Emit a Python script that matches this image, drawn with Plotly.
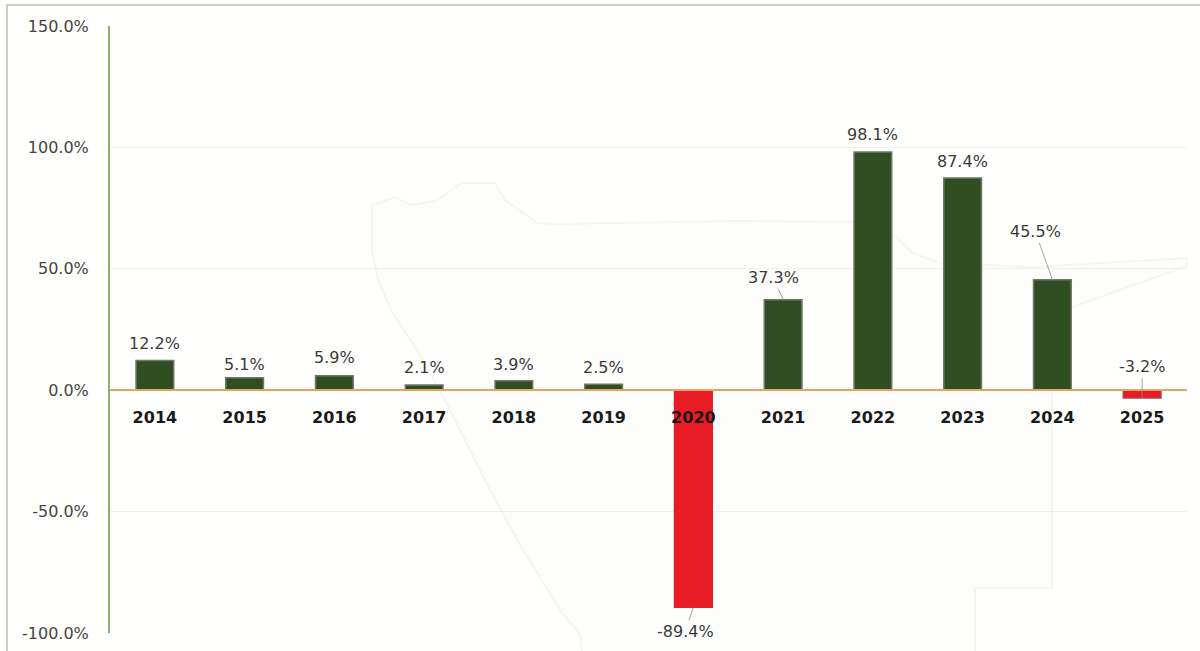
import plotly.graph_objects as go

years = ["2014", "2015", "2016", "2017", "2018", "2019", "2020", "2021", "2022", "2023", "2024", "2025"]
growth = [12.2, 5.1, 5.9, 2.1, 3.9, 2.5, -89.4, 37.3, 98.1, 87.4, 45.5, -3.2]
labels = ["12.2%", "5.1%", "5.9%", "2.1%", "3.9%", "2.5%", "-89.4%", "37.3%", "98.1%", "87.4%", "45.5%", "-3.2%"]
y_ticks = [-100, -50, 0, 50, 100, 150]
y_tick_labels = ["-100.0%", "-50.0%", "0.0%", "50.0%", "100.0%", "150.0%"]

W, H = 1200, 651
L, R, T, B = 110, 1187, 26, 633
FONT = "DejaVu Sans"


def px(x, y):
    return (x - L) / (R - L), (B - y) / (B - T)


def path(points, close=True):
    out = []
    for i, (x, y) in enumerate(points):
        a, b = px(x, y)
        out.append(("M" if i == 0 else "L") + f"{a:.4f},{b:.4f}")
    return " ".join(out) + (" Z" if close else "")


watermark = [
    (372, 205), (395, 197), (410, 205), (435, 201), (462, 183), (495, 183), (505, 200),
    (538, 223), (555, 224), (740, 221), (860, 222), (897, 237), (913, 253), (940, 263),
    (1033, 267), (1187, 258), (1187, 266), (1070, 308), (1052, 312), (1052, 588),
    (975, 588), (975, 655), (582, 655), (580, 635), (560, 610), (520, 545), (490, 490),
    (460, 430), (445, 400), (420, 355), (392, 312), (378, 280), (372, 250),
]

bar_colors = ["#e81c24" if v < 0 else "#2f4f22" for v in growth]
line_colors = ["#e81c24" if v < -50 else "#a8464c" if v < 0 else "#6f7868" for v in growth]

fig = go.Figure(go.Bar(
    x=years, y=growth, width=0.42,
    marker=dict(color=bar_colors, line=dict(color=line_colors, width=1.5)),
    hoverinfo="x+y",
))

offsets = [(0, -17), (0, -13), (0, -18), (0, -18), (0, -16.5), (0, -17),
           (-8, 24), (-10, -22), (0, -18), (0, -16), (-17, -48), (0, -31)]
leaders = [False, False, False, False, False, False, True, True, False, False, True, True]

for i, (v, text, (dx, dy), lead) in enumerate(zip(growth, labels, offsets, leaders)):
    fig.add_annotation(
        x=i, y=v, text=text, ax=dx, ay=dy, showarrow=True, arrowhead=0,
        arrowwidth=0.8, arrowcolor="#8a8a8a" if lead else "rgba(0,0,0,0)",
        font=dict(family=FONT, size=16, color="#3a3a3a"),
    )

x0, y0 = px(7, 5)
x1, y1 = px(1210, 660)
fig.update_layout(
    width=W, height=H, autosize=False,
    margin=dict(l=L, r=W - R, t=T, b=H - B, pad=0),
    paper_bgcolor="#fffffe", plot_bgcolor="rgba(0,0,0,0)",
    showlegend=False,
    font=dict(family=FONT, size=16, color="#3a3a3a"),
    xaxis=dict(
        type="category", categoryorder="array", categoryarray=years,
        range=[-0.5, 11.5], anchor="free", position=0.4, automargin=False,
        showgrid=False, zeroline=False, showline=True,
        linecolor="#e9a35c", linewidth=2, ticks="",
        ticklabelstandoff=13,
        tickfont=dict(family=FONT, size=16, color="#1a1a1a", weight="bold"),
    ),
    yaxis=dict(
        range=[-100, 150], tickmode="array", tickvals=y_ticks, ticktext=y_tick_labels,
        automargin=False, showgrid=True, gridcolor="#efefec", gridwidth=1, zeroline=False,
        showline=True, linecolor="#8db26a", linewidth=2, ticks="",
        ticklabelstandoff=16,
        tickfont=dict(family=FONT, size=16, color="#444444"),
    ),
    shapes=[
        dict(type="path", path=path(watermark), xref="paper", yref="paper", layer="below",
             fillcolor="#fdfdfc", line=dict(color="#f6f5f3", width=2)),
        dict(type="rect", x0=x0, x1=x1, y0=y1, y1=y0, xref="paper", yref="paper", layer="below",
             fillcolor="rgba(0,0,0,0)", line=dict(color="#bdbdab", width=1.5)),
    ],
)

fig.write_html(
    "out.html",
    config={"displayModeBar": False},
    post_script="document.body.style.margin='0';document.documentElement.style.overflow='hidden';",
)
